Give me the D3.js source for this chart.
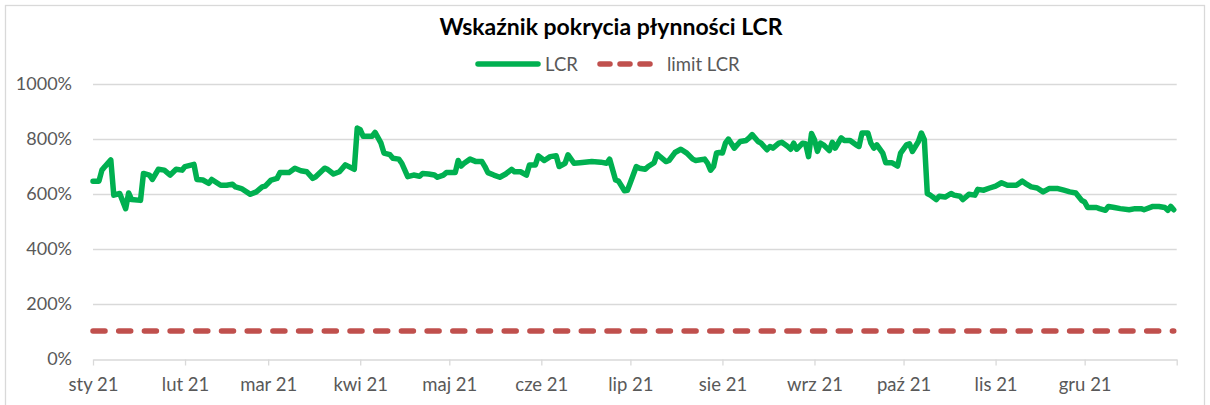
<!DOCTYPE html>
<html><head><meta charset="utf-8">
<script src="https://cdn.jsdelivr.net/npm/d3@7"></script>
<style>
html,body{margin:0;padding:0;background:#fff;}
svg{display:block;font-family:Lato,"Open Sans",sans-serif;}
</style></head>
<body><svg id="c" width="1210" height="405"></svg>
<script>
const title = "Wskaźnik pokrycia płynności LCR";
const seriesNames = ["LCR", "limit LCR"];
const dates = ["2021-01-01","2021-01-03","2021-01-04","2021-01-05","2021-01-07","2021-01-08","2021-01-10","2021-01-12","2021-01-13","2021-01-14","2021-01-17","2021-01-18","2021-01-20","2021-01-21","2021-01-23","2021-01-25","2021-01-27","2021-01-29","2021-01-31",
"2021-02-01","2021-02-04","2021-02-05","2021-02-07","2021-02-09","2021-02-10","2021-02-13","2021-02-15","2021-02-17","2021-02-18","2021-02-20","2021-02-23","2021-02-25","2021-02-27","2021-02-28",
"2021-03-02","2021-03-04","2021-03-05","2021-03-08","2021-03-10","2021-03-12","2021-03-14","2021-03-16","2021-03-17","2021-03-20","2021-03-21","2021-03-23","2021-03-25","2021-03-27","2021-03-30","2021-03-31",
"2021-04-01","2021-04-02","2021-04-05","2021-04-06","2021-04-08","2021-04-09","2021-04-11","2021-04-12","2021-04-14","2021-04-15","2021-04-17","2021-04-19","2021-04-21","2021-04-22","2021-04-24","2021-04-26","2021-04-27","2021-04-29","2021-04-30",
"2021-05-03","2021-05-04","2021-05-05","2021-05-06","2021-05-08","2021-05-10","2021-05-12","2021-05-13","2021-05-14","2021-05-16","2021-05-18","2021-05-20","2021-05-22","2021-05-23","2021-05-25","2021-05-27","2021-05-28","2021-05-30","2021-05-31",
"2021-06-02","2021-06-04","2021-06-06","2021-06-07","2021-06-09","2021-06-10","2021-06-12","2021-06-14","2021-06-18","2021-06-21","2021-06-23","2021-06-24","2021-06-26","2021-06-27","2021-06-29","2021-06-30",
"2021-07-01","2021-07-03","2021-07-04","2021-07-06","2021-07-07","2021-07-09","2021-07-10","2021-07-11","2021-07-13","2021-07-14","2021-07-16","2021-07-18","2021-07-20","2021-07-22","2021-07-23","2021-07-26","2021-07-27","2021-07-28","2021-07-29","2021-07-30","2021-07-31",
"2021-08-01","2021-08-02","2021-08-03","2021-08-05","2021-08-07","2021-08-09","2021-08-10","2021-08-11","2021-08-13","2021-08-14","2021-08-16","2021-08-17","2021-08-18","2021-08-20","2021-08-21","2021-08-23","2021-08-24","2021-08-25","2021-08-26","2021-08-28","2021-08-29","2021-08-30","2021-08-31",
"2021-09-01","2021-09-02","2021-09-03","2021-09-04","2021-09-06","2021-09-07","2021-09-08","2021-09-10","2021-09-11","2021-09-13","2021-09-15","2021-09-16","2021-09-17","2021-09-19","2021-09-20","2021-09-21","2021-09-22","2021-09-24","2021-09-25","2021-09-27","2021-09-29","2021-09-30",
"2021-10-02","2021-10-03","2021-10-04","2021-10-06","2021-10-07","2021-10-08","2021-10-09","2021-10-10","2021-10-12","2021-10-13","2021-10-15","2021-10-17","2021-10-18","2021-10-20","2021-10-21","2021-10-23","2021-10-25","2021-10-26","2021-10-28","2021-10-30",
"2021-11-01","2021-11-03","2021-11-05","2021-11-07","2021-11-08","2021-11-10","2021-11-11","2021-11-13","2021-11-15","2021-11-17","2021-11-19","2021-11-22","2021-11-24","2021-11-26","2021-11-28","2021-11-30",
"2021-12-01","2021-12-02","2021-12-05","2021-12-06","2021-12-08","2021-12-09","2021-12-11","2021-12-13","2021-12-16","2021-12-18","2021-12-20","2021-12-21","2021-12-24","2021-12-26","2021-12-28","2021-12-29","2021-12-30","2021-12-31"];
const lcr = [645,645,685,698,722,594,600,545,602,578,575,673,667,651,688,685,667,688,685,
698,706,651,649,637,651,630,630,634,624,618,597,606,624,627,
649,655,676,676,692,683,679,655,661,692,688,671,679,704,688,838,
832,808,808,822,783,747,741,728,725,710,661,667,663,673,671,667,659,667,676,
676,720,700,710,725,716,716,698,676,667,659,671,688,679,679,667,704,704,737,
720,734,737,698,710,741,710,712,716,714,710,725,649,645,610,612,
640,698,692,688,698,712,744,734,716,720,749,761,747,725,720,725,710,685,698,747,749,
747,783,798,765,789,793,802,814,789,783,759,771,765,783,786,771,761,783,761,783,781,734,818,
796,753,783,777,756,786,765,802,793,793,777,771,820,820,783,765,777,747,712,712,700,747,
777,781,753,789,820,796,600,594,578,590,587,600,594,590,578,597,594,615,612,620,
627,639,630,630,630,645,637,624,620,606,618,618,612,606,602,575,
569,549,549,545,539,553,549,545,541,545,545,541,553,553,549,539,553,541];
const limitValue = 100;
const yTicks = [0,200,400,600,800,1000];
const monthStarts = ["2021-01-01","2021-02-01","2021-03-01","2021-04-01","2021-05-01","2021-06-01","2021-07-01","2021-08-01","2021-09-01","2021-10-01","2021-11-01","2021-12-01","2022-01-01"];
const monthLabels = ["sty 21","lut 21","mar 21","kwi 21","maj 21","cze 21","lip 21","sie 21","wrz 21","paź 21","lis 21","gru 21",""];

const parse = d3.timeParse("%Y-%m-%d");
const svg = d3.select("#c");
const L = 93, R = 1176.7, T = 83.5, B = 358.5;
const x = d3.scaleTime().domain([parse(monthStarts[0]), parse(monthStarts[monthStarts.length-1])]).range([L, R]);
const y = d3.scaleLinear().domain([0, 1000]).range([B, T]);
const grey = "#d9d9d9", txt = "#595959";
const font = "Lato,'Open Sans',sans-serif";

svg.append("rect").attr("x",5.5).attr("y",5.5).attr("width",1199).attr("height",420)
  .attr("fill","#fff").attr("stroke",grey).attr("stroke-width",1.3);

// gridlines
svg.append("g").selectAll("line").data(yTicks.filter(v=>v>0)).join("line")
  .attr("x1",L).attr("x2",R).attr("y1",d=>Math.round(y(d))+0.5).attr("y2",d=>Math.round(y(d))+0.5)
  .attr("stroke",grey).attr("stroke-width",1.3);

// y axis labels
const yAxis = d3.axisLeft(y).tickValues(yTicks).tickFormat(d=>d+"%").tickSize(0).tickPadding(21);
const gy = svg.append("g").attr("transform",`translate(${L},0)`).call(yAxis);
gy.select(".domain").remove();
gy.selectAll("text").attr("fill",txt).style("font-size","18px").style("font-family",font);

// x axis
const xAxis = d3.axisBottom(x).tickValues(monthStarts.map(parse)).tickFormat((d,i)=>monthLabels[i]).tickSizeInner(6).tickSizeOuter(0).tickPadding(12);
const gx = svg.append("g").attr("transform",`translate(0,${Math.round(B)+0.5})`).call(xAxis);
gx.select(".domain").attr("stroke",grey).attr("stroke-width",1.3);
gx.selectAll(".tick line").attr("stroke",grey).attr("stroke-width",1.3);
gx.selectAll("text").attr("fill",txt).style("font-size","18.5px").style("font-family",font);

// limit line
const dParsed = dates.map(parse);
svg.append("line").attr("x1",x(dParsed[0])).attr("x2",x(dParsed[dParsed.length-1]))
  .attr("y1",y(limitValue)).attr("y2",y(limitValue))
  .attr("stroke","#C0504D").attr("stroke-width",5.5).attr("stroke-linecap","round")
  .attr("stroke-dasharray","12,13.7");

// LCR line
const line = d3.line().x((d,i)=>x(dParsed[i])).y(d=>y(d));
svg.append("path").datum(lcr).attr("d",line).attr("fill","none")
  .attr("stroke","#00B050").attr("stroke-width",5.5).attr("stroke-linejoin","round").attr("stroke-linecap","round");

// title
svg.append("text").attr("x",611).attr("y",35).attr("text-anchor","middle")
  .style("font-size","23px").style("font-weight","bold").attr("fill","#000").text(title);

// legend
const lg = svg.append("g");
lg.append("line").attr("x1",478).attr("x2",538).attr("y1",64).attr("y2",64)
  .attr("stroke","#00B050").attr("stroke-width",5.5).attr("stroke-linecap","round");
lg.append("text").attr("x",545).attr("y",71).attr("fill",txt).style("font-size","18.5px").text(seriesNames[0]);
lg.append("line").attr("x1",600).attr("x2",660).attr("y1",64).attr("y2",64)
  .attr("stroke","#C0504D").attr("stroke-width",5.5).attr("stroke-linecap","round").attr("stroke-dasharray","10,10");
lg.append("text").attr("x",667).attr("y",71).attr("fill",txt).style("font-size","18.5px").text(seriesNames[1]);
</script></body></html>
